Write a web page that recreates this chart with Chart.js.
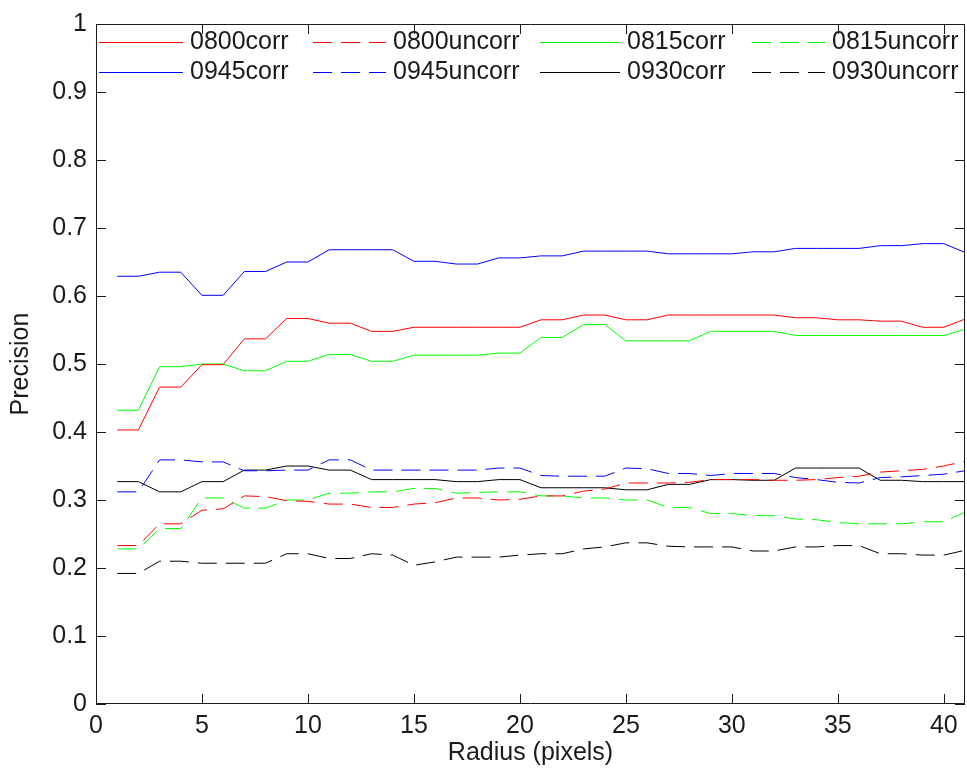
<!DOCTYPE html>
<html lang="en">
<head>
    <meta charset="UTF-8">
    <title>Precision vs Radius</title>
    <style>
        html, body { margin: 0; padding: 0; background: #fff; }
        #wrap { width: 967px; height: 774px; }
    </style>
</head>
<body>
    <div id="wrap"><canvas id="chart" width="967" height="774"></canvas></div>

    <script src="https://cdn.jsdelivr.net/npm/chart.js"></script>
    <script>
        // radius in pixels
        const radius = [1,2,3,4,5,6,7,8,9,10,11,12,13,14,15,16,17,18,19,20,21,22,23,24,25,26,27,28,29,30,31,32,33,34,35,36,37,38,39,40,41]

        const c0800corr = [0.403,0.403,0.466,0.466,0.499,0.499,0.537,0.537,0.567,0.567,0.560,0.560,0.548,0.548,0.554,0.554,0.554,0.554,0.554,0.554,0.565,0.565,0.572,0.572,0.565,0.565,0.572,0.572,0.572,0.572,0.572,0.572,0.568,0.568,0.565,0.565,0.563,0.563,0.554,0.554,0.566]
        const c0800uncorr = [0.233,0.233,0.265,0.265,0.285,0.287,0.306,0.305,0.299,0.298,0.294,0.294,0.289,0.289,0.294,0.296,0.303,0.303,0.300,0.301,0.306,0.306,0.313,0.316,0.325,0.325,0.325,0.326,0.330,0.330,0.330,0.329,0.329,0.330,0.333,0.335,0.341,0.343,0.345,0.350,0.357]
        const c0815corr = [0.432,0.432,0.496,0.496,0.500,0.500,0.490,0.490,0.504,0.504,0.514,0.514,0.504,0.504,0.513,0.513,0.513,0.513,0.516,0.516,0.539,0.539,0.558,0.558,0.534,0.534,0.534,0.534,0.548,0.548,0.548,0.548,0.542,0.542,0.542,0.542,0.542,0.542,0.542,0.542,0.551]
        const c0815uncorr = [0.228,0.228,0.258,0.258,0.303,0.303,0.288,0.288,0.300,0.300,0.310,0.310,0.312,0.312,0.317,0.317,0.310,0.311,0.312,0.312,0.306,0.306,0.303,0.303,0.300,0.300,0.289,0.289,0.280,0.280,0.277,0.277,0.272,0.271,0.267,0.265,0.265,0.265,0.268,0.268,0.282]
        const c0945corr = [0.629,0.629,0.635,0.635,0.601,0.601,0.636,0.636,0.650,0.650,0.668,0.668,0.668,0.668,0.651,0.651,0.647,0.647,0.656,0.656,0.659,0.659,0.666,0.666,0.666,0.666,0.662,0.662,0.662,0.662,0.665,0.665,0.670,0.670,0.670,0.670,0.674,0.674,0.677,0.677,0.664]
        const c0945uncorr = [0.312,0.312,0.359,0.359,0.356,0.356,0.343,0.343,0.344,0.344,0.359,0.359,0.344,0.344,0.344,0.344,0.344,0.344,0.347,0.347,0.336,0.335,0.335,0.335,0.347,0.346,0.339,0.339,0.336,0.339,0.339,0.339,0.333,0.330,0.326,0.325,0.333,0.334,0.336,0.338,0.343]
        const c0930corr = [0.327,0.327,0.312,0.312,0.327,0.327,0.344,0.344,0.350,0.350,0.344,0.344,0.330,0.330,0.330,0.330,0.327,0.327,0.330,0.330,0.318,0.318,0.318,0.318,0.315,0.315,0.323,0.323,0.330,0.330,0.329,0.329,0.347,0.347,0.347,0.347,0.329,0.329,0.327,0.327,0.327]
        const c0930uncorr = [0.192,0.192,0.210,0.210,0.207,0.207,0.207,0.207,0.221,0.221,0.214,0.214,0.221,0.219,0.204,0.209,0.216,0.216,0.216,0.219,0.221,0.221,0.228,0.231,0.237,0.237,0.232,0.231,0.231,0.231,0.225,0.225,0.231,0.231,0.233,0.233,0.221,0.221,0.219,0.219,0.226]

        const xTicks = [0,5,10,15,20,25,30,35,40]
        const yTicks = [0,0.1,0.2,0.3,0.4,0.5,0.6,0.7,0.8,0.9,1]

        const DASH = [19, 9]
        const FONT = 'Liberation Sans, Arial, sans-serif'
        const TEXT = '#1a1a1a'

        function pts(arr){
            return radius.map((r, i) => ({x: r, y: arr[i]}))
        }

        function line(label, arr, color, dashed){
            return {
                label: label,
                data: pts(arr),
                borderColor: color,
                backgroundColor: color,
                borderWidth: 1,
                borderDash: dashed ? DASH : [],
                pointRadius: 0,
                fill: false,
                tension: 0
            }
        }

        // legend laid out in the plot like the matlab one: 2 rows x 4 columns, no box
        const legendCols = [99, 313, 540, 752]
        const legendText = [190, 393, 627, 832]
        const legendRows = [42, 72]

        const matlabFrame = {
            id: 'matlabFrame',
            afterDraw(chart){
                const ctx = chart.ctx
                const a = chart.chartArea
                const xs = chart.scales.x
                const ys = chart.scales.y
                ctx.save()
                ctx.strokeStyle = '#1a1a1a'
                ctx.lineWidth = 1
                ctx.setLineDash([])
                ctx.beginPath()
                ctx.rect(Math.round(a.left) + 0.5, Math.round(a.top) + 0.5, Math.round(a.right - a.left) - 1, Math.round(a.bottom - a.top) - 1)
                // inward ticks, all four sides
                xTicks.forEach(v => {
                    const px = Math.round(xs.getPixelForValue(v)) + 0.5
                    ctx.moveTo(px, a.bottom); ctx.lineTo(px, a.bottom - 10)
                    ctx.moveTo(px, a.top); ctx.lineTo(px, a.top + 10)
                })
                yTicks.forEach(v => {
                    const py = Math.round(ys.getPixelForValue(v)) + 0.5
                    ctx.moveTo(a.left, py); ctx.lineTo(a.left + 10, py)
                    ctx.moveTo(a.right, py); ctx.lineTo(a.right - 10, py)
                })
                ctx.stroke()

                // legend
                const sets = chart.data.datasets
                ctx.font = '25px ' + FONT
                ctx.textBaseline = 'middle'
                ctx.fillStyle = TEXT
                sets.forEach((ds, i) => {
                    const row = Math.floor(i / 4)
                    const col = i % 4
                    const y = legendRows[row] + 0.5
                    ctx.beginPath()
                    ctx.strokeStyle = ds.borderColor
                    ctx.setLineDash(ds.borderDash)
                    ctx.moveTo(legendCols[col], y)
                    ctx.lineTo(legendText[col] - 7, y)
                    ctx.stroke()
                    ctx.fillText(ds.label, legendText[col], legendRows[row])
                })
                ctx.restore()
            }
        }

        const canvas = document.getElementById('chart')

        new Chart(canvas, {
            type: 'line',
            data: {
                datasets: [
                    line('0800corr', c0800corr, '#ff0000', false),
                    line('0800uncorr', c0800uncorr, '#ff0000', true),
                    line('0815corr', c0815corr, '#00ff00', false),
                    line('0815uncorr', c0815uncorr, '#00ff00', true),
                    line('0945corr', c0945corr, '#0000ff', false),
                    line('0945uncorr', c0945uncorr, '#0000ff', true),
                    line('0930corr', c0930corr, '#000000', false),
                    line('0930uncorr', c0930uncorr, '#000000', true)
                ]
            },
            options: {
                responsive: false,
                animation: false,
                devicePixelRatio: 1,
                layout: { padding: { top: 17, right: 2, left: 0, bottom: 0 } },
                plugins: {
                    legend: { display: false },
                    tooltip: { enabled: false }
                },
                scales: {
                    x: {
                        type: 'linear',
                        min: 0,
                        max: 41,
                        afterFit: s => { s.height = 70 },
                        afterBuildTicks: s => { s.ticks = xTicks.map(v => ({value: v})) },
                        grid: { display: false, drawTicks: false },
                        border: { display: false },
                        ticks: { color: TEXT, font: { family: FONT, size: 25 }, padding: 7, maxRotation: 0 },
                        title: { display: true, text: 'Radius (pixels)', color: TEXT, font: { family: FONT, size: 25 }, padding: { top: 0, bottom: 6 } }
                    },
                    y: {
                        type: 'linear',
                        min: 0,
                        max: 1,
                        afterFit: s => { s.width = 96 },
                        afterBuildTicks: s => { s.ticks = yTicks.map(v => ({value: v})) },
                        grid: { display: false, drawTicks: false },
                        border: { display: false },
                        ticks: { color: TEXT, font: { family: FONT, size: 25 }, padding: 9, callback: v => String(Math.round(v * 10) / 10) },
                        title: { display: true, text: 'Precision', color: TEXT, font: { family: FONT, size: 25 }, padding: { top: 6, bottom: 0 } }
                    }
                }
            },
            plugins: [matlabFrame]
        })
    </script>
</body>
</html>
